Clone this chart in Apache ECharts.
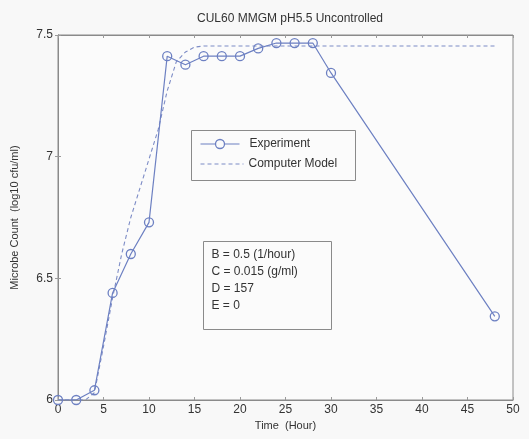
<!DOCTYPE html>
<html>
<head>
<meta charset="utf-8">
<script src="https://cdn.jsdelivr.net/npm/echarts@6/dist/echarts.min.js"></script>
<style>
html,body{margin:0;padding:0;background:#f8f8f8;}
#c{width:529px;height:439px;}
</style>
</head>
<body>
<div id="c"></div>
<script>
const titleText = 'CUL60 MMGM pH5.5 Uncontrolled';
const xTicks = [0, 5, 10, 15, 20, 25, 30, 35, 40, 45, 50];
const yTicks = [6, 6.5, 7, 7.5];
const expTime = [0, 2, 4, 6, 8, 10, 12, 14, 16, 18, 20, 22, 24, 26, 28, 30, 48];
const expCount = [6.0, 6.0, 6.04, 6.44, 6.60, 6.73, 7.413, 7.378, 7.413, 7.413, 7.413, 7.445, 7.467, 7.467, 7.467, 7.344, 6.344];
const modelTime = [0, 1, 2, 3, 4, 5, 6, 7, 8, 9, 10, 11, 12, 13, 14, 15, 16, 20, 30, 40, 48];
const modelCount = [6.0, 6.0, 6.0, 6.0, 6.03, 6.22, 6.42, 6.6, 6.75, 6.87, 6.99, 7.11, 7.27, 7.39, 7.43, 7.45, 7.455, 7.455, 7.455, 7.455, 7.455];
const seriesNames = ['Experiment', 'Computer Model'];
const paramLines = ['B = 0.5 (1/hour)', 'C = 0.015 (g/ml)', 'D = 157', 'E = 0'];

const font = 'Liberation Sans, Arial, sans-serif';
const expColor = '#6d80c2';
const modelColor = '#7d8cc6';
const chart = echarts.init(document.getElementById('c'));
const axisLine = {show: true, lineStyle: {color: '#8a8a8a', width: 1}};
const tick = {show: true, inside: true, length: 3, lineStyle: {color: '#9a9a9a'}};
const txt = (s, x, y) => ({type: 'text', x: x, y: y, style: {text: s, fontFamily: font, fontSize: 12, fill: '#333', textVerticalAlign: 'middle'}});
chart.setOption({
  backgroundColor: '#f8f8f8',
  animation: false,
  title: {
    text: titleText, left: 285, top: 8, textAlign: 'center',
    textStyle: {fontFamily: font, fontSize: 12, fontWeight: 'normal', color: '#333'}
  },
  grid: {left: 58, right: 16, top: 35, bottom: 39, show: true, backgroundColor: '#fbfbfb', borderColor: '#8a8a8a'},
  xAxis: [{
    type: 'value', min: 0, max: 50, interval: 5,
    name: 'Time  (Hour)', nameLocation: 'middle', nameGap: 19,
    nameTextStyle: {fontFamily: font, fontSize: 11, color: '#333'},
    axisLine: axisLine, axisTick: tick, splitLine: {show: false},
    axisLabel: {fontFamily: font, fontSize: 12, color: '#333', margin: 4, formatter: v => xTicks.includes(v) ? String(v) : ''}
  }, {
    type: 'value', min: 0, max: 50, interval: 5, position: 'top',
    axisLine: axisLine, axisTick: tick, splitLine: {show: false}, axisLabel: {show: false}
  }],
  yAxis: [{
    type: 'value', min: 6, max: 7.5, interval: 0.5,
    name: 'Microbe Count  (log10 cfu/ml)', nameLocation: 'middle', nameGap: 38, nameRotate: 90,
    nameTextStyle: {fontFamily: font, fontSize: 11, color: '#333'},
    axisLine: axisLine, axisTick: tick, splitLine: {show: false},
    axisLabel: {fontFamily: font, fontSize: 12, color: '#333', margin: 5, formatter: v => yTicks.includes(v) ? String(v) : ''}
  }, {
    type: 'value', min: 6, max: 7.5, interval: 0.5, position: 'right',
    axisLine: axisLine, axisTick: tick, splitLine: {show: false}, axisLabel: {show: false}
  }],
  series: [{
    name: seriesNames[0], type: 'line',
    data: expTime.map((t, i) => [t, expCount[i]]),
    symbol: 'circle', symbolSize: 9, showAllSymbol: true,
    itemStyle: {color: 'rgba(0,0,0,0)', borderColor: expColor, borderWidth: 1.3},
    lineStyle: {color: expColor, width: 1.2},
    z: 3
  }, {
    name: seriesNames[1], type: 'line',
    data: modelTime.map((t, i) => [t, modelCount[i]]),
    symbol: 'none',
    lineStyle: {color: modelColor, width: 1.1, type: [4, 3]},
    z: 2
  }],
  graphic: [{
    type: 'group', left: 191, top: 130, z: 10,
    children: [
      {type: 'rect', shape: {x: 0, y: 0, width: 164, height: 50}, style: {fill: '#fbfbfb', stroke: '#8a8a8a', lineWidth: 1}},
      {type: 'line', shape: {x1: 9, y1: 13.5, x2: 48, y2: 13.5}, style: {stroke: expColor, lineWidth: 1.2}},
      {type: 'circle', shape: {cx: 28.5, cy: 13.5, r: 4.5}, style: {fill: '#fbfbfb', stroke: expColor, lineWidth: 1.3}},
      {type: 'line', shape: {x1: 9, y1: 33.5, x2: 52, y2: 33.5}, style: {stroke: modelColor, lineWidth: 1.1, lineDash: [4, 3]}},
      txt(seriesNames[0], 58, 13.5),
      txt(seriesNames[1], 57, 33.5)
    ]
  }, {
    type: 'group', left: 203, top: 241, z: 10,
    children: [{
      type: 'rect', shape: {x: 0, y: 0, width: 128, height: 88},
      style: {fill: '#fbfbfb', stroke: '#8a8a8a', lineWidth: 1}
    }].concat(paramLines.map((s, i) => txt(s, 8, 13 + i * 17)))
  }]
});
</script>
</body>
</html>
